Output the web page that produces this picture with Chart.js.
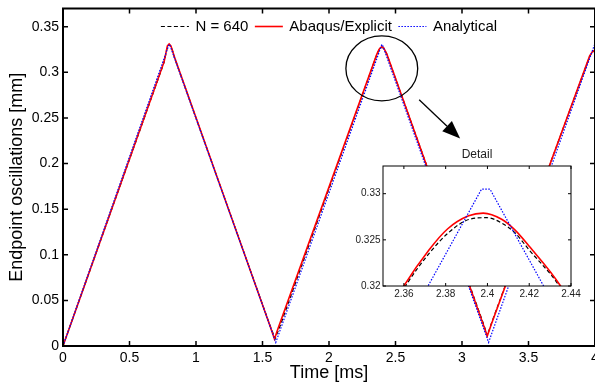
<!DOCTYPE html>
<html>
<head>
<meta charset="utf-8">
<title>Endpoint oscillations</title>
<script src="https://cdn.jsdelivr.net/npm/chart.js@4.4.1/dist/chart.umd.min.js"></script>
<style>
  html, body { margin: 0; padding: 0; background: #fff; overflow: hidden; }
  #wrap { position: relative; width: 595px; height: 387px; }
  #main { position: absolute; left: 0; top: 0; }
  #detail { position: absolute; left: 340px; top: 140px; }
</style>
</head>
<body>
<div id="wrap">
  <canvas id="main" width="595" height="387"></canvas>
  <canvas id="detail" width="245" height="165"></canvas>
</div>
<script>
// Data
const seriesLabels = ['N = 640', 'Abaqus/Explicit', 'Analytical'];

const nTime = [0, 0.76, 0.785, 0.8, 0.815, 0.84, 1.56, 1.595, 1.63, 2.3608, 2.372, 2.381, 2.391, 2.3996, 2.407, 2.413, 2.42, 2.4344, 3.16, 3.19, 3.22, 3.96, 3.98, 4.0];
const nValues = [0, 0.311, 0.3283, 0.3305, 0.3281, 0.3155, 0.021, 0.0082, 0.021, 0.32, 0.3235, 0.3257, 0.3272, 0.3274, 0.3268, 0.3258, 0.3239, 0.32, 0.025, 0.0115, 0.0245, 0.3175, 0.322, 0.3243];

const abaqusTime = [0, 0.76, 0.785, 0.798, 0.812, 0.84, 1.56, 1.59, 1.62, 2.36, 2.372, 2.381, 2.391, 2.398, 2.407, 2.413, 2.42, 2.435, 3.16, 3.19, 3.22, 3.96, 3.98, 4.0];
const abaqusValues = [0, 0.3115, 0.329, 0.3312, 0.3288, 0.316, 0.0205, 0.0077, 0.0205, 0.32, 0.3239, 0.3262, 0.3276, 0.3279, 0.3272, 0.3261, 0.3243, 0.32, 0.0235, 0.011, 0.0235, 0.318, 0.3225, 0.3246];

const analyticalTime = [0, 0.797, 0.802, 1.6, 2.3972, 2.4012, 3.2, 3.997, 4.0];
const analyticalValues = [0, 0.3305, 0.3305, 0.004, 0.3305, 0.3305, 0.004, 0.3305, 0.3305];

const timeTicks = [0, 0.5, 1, 1.5, 2, 2.5, 3, 3.5, 4];
const dispTicks = [0, 0.05, 0.1, 0.15, 0.2, 0.25, 0.3, 0.35];
const detailTimeTicks = [2.36, 2.38, 2.4, 2.42, 2.44];
const detailDispTicks = [0.32, 0.325, 0.33];

// Circle around the peak and arrow to the inset (in axis units)
const zoomCircle = { x: 2.397, y: 0.3043, rx: 0.27, ry: 0.0356 };
const zoomArrow = { from: [2.678, 0.270], to: [2.986, 0.2274] };

Chart.defaults.font.family = '"Liberation Sans", Arial, sans-serif';
Chart.defaults.color = '#000';

const toPoints = (xs, ys) => xs.map((x, i) => ({ x: x, y: ys[i] }));

// smooth = true only for the inset, where the rounded peaks show
function makeDatasets(clip, smooth) {
  const curve = smooth ? 'monotone' : 'default';
  return [
    { label: seriesLabels[0], data: toPoints(nTime, nValues), borderColor: '#000000', borderWidth: 1.2, borderDash: [4, 2.5], order: 2, cubicInterpolationMode: curve },
    { label: seriesLabels[1], data: toPoints(abaqusTime, abaqusValues), borderColor: '#ff0000', borderWidth: 1.6, order: 1, cubicInterpolationMode: curve },
    { label: seriesLabels[2], data: toPoints(analyticalTime, analyticalValues), borderColor: '#0000ff', borderWidth: 1.2, borderDash: [1.5, 1.5], order: 0 }
  ].map(ds => Object.assign(ds, { pointRadius: 0, tension: 0, fill: false, clip: clip }));
}

// Box around the plot with inward ticks on all four sides
const framePlugin = {
  id: 'frame',
  afterDatasetsDraw(chart, args, opts) {
    const { ctx, chartArea: a, scales: { x, y } } = chart;
    ctx.save();
    ctx.strokeStyle = '#000';
    ctx.lineWidth = opts.tickWidth;
    ctx.beginPath();
    x.ticks.forEach(t => {
      const px = x.getPixelForValue(t.value);
      ctx.moveTo(px, a.bottom); ctx.lineTo(px, a.bottom - opts.tickLen);
      ctx.moveTo(px, a.top); ctx.lineTo(px, a.top + opts.tickLen);
    });
    y.ticks.forEach(t => {
      const py = y.getPixelForValue(t.value);
      ctx.moveTo(a.left, py); ctx.lineTo(a.left + opts.tickLen, py);
      ctx.moveTo(a.right, py); ctx.lineTo(a.right - opts.tickLen, py);
    });
    ctx.stroke();
    ctx.lineWidth = opts.lineWidth;
    ctx.strokeRect(a.left, a.top, a.width, a.height);
    ctx.restore();
  }
};

// Legend drawn inside the plot, line samples keep the dataset styles
const lineLegend = {
  id: 'lineLegend',
  afterDraw(chart, args, opts) {
    if (!opts.show) return;
    const { ctx, chartArea: a } = chart;
    ctx.save();
    ctx.font = opts.font;
    const items = chart.data.datasets.map(ds => ({ ds: ds, w: ctx.measureText(ds.label).width }));
    const total = items.reduce((s, it) => s + opts.lineLen + opts.gap + it.w, 0) + opts.gap * (items.length - 1);
    let xPos = (a.left + a.right) / 2 - total / 2;
    const yPos = a.top + opts.offset;
    items.forEach(it => {
      ctx.strokeStyle = it.ds.borderColor;
      ctx.lineWidth = it.ds.borderWidth;
      ctx.setLineDash(it.ds.borderDash || []);
      ctx.beginPath();
      ctx.moveTo(xPos, yPos);
      ctx.lineTo(xPos + opts.lineLen, yPos);
      ctx.stroke();
      ctx.setLineDash([]);
      xPos += opts.lineLen + opts.gap;
      ctx.fillStyle = '#000';
      ctx.textBaseline = 'middle';
      ctx.fillText(it.ds.label, xPos, yPos);
      xPos += it.w + opts.gap;
    });
    ctx.restore();
  }
};

// Ellipse + arrow pointing to the detail view
const calloutPlugin = {
  id: 'callout',
  afterDatasetsDraw(chart) {
    const { ctx, scales: { x, y } } = chart;
    const cx = x.getPixelForValue(zoomCircle.x);
    const cy = y.getPixelForValue(zoomCircle.y);
    const rx = x.getPixelForValue(zoomCircle.x + zoomCircle.rx) - cx;
    const ry = cy - y.getPixelForValue(zoomCircle.y + zoomCircle.ry);
    ctx.save();
    ctx.strokeStyle = '#000';
    ctx.lineWidth = 1.3;
    ctx.beginPath();
    ctx.ellipse(cx, cy, rx, ry, 0, 0, Math.PI * 2);
    ctx.stroke();

    const x1 = x.getPixelForValue(zoomArrow.from[0]), y1 = y.getPixelForValue(zoomArrow.from[1]);
    const x2 = x.getPixelForValue(zoomArrow.to[0]), y2 = y.getPixelForValue(zoomArrow.to[1]);
    const ang = Math.atan2(y2 - y1, x2 - x1);
    const headLen = 18, headW = 7;
    const bx = x2 - headLen * Math.cos(ang), by = y2 - headLen * Math.sin(ang);
    ctx.beginPath();
    ctx.moveTo(x1, y1);
    ctx.lineTo(bx, by);
    ctx.stroke();
    ctx.fillStyle = '#000';
    ctx.beginPath();
    ctx.moveTo(x2, y2);
    ctx.lineTo(bx + headW * Math.sin(ang), by - headW * Math.cos(ang));
    ctx.lineTo(bx - headW * Math.sin(ang), by + headW * Math.cos(ang));
    ctx.closePath();
    ctx.fill();
    ctx.restore();
  }
};

// White plot area and title for the inset
const insetPlugin = {
  id: 'inset',
  beforeDatasetsDraw(chart, args, opts) {
    if (!opts.show) return;
    const { ctx, chartArea: a } = chart;
    ctx.save();
    ctx.fillStyle = '#fff';
    ctx.fillRect(a.left, a.top, a.width, a.height);
    ctx.fillStyle = '#222';
    ctx.font = '12px "Liberation Sans", Arial, sans-serif';
    ctx.textAlign = 'center';
    ctx.textBaseline = 'middle';
    ctx.fillText(opts.title, (a.left + a.right) / 2, a.top - 11);
    ctx.restore();
  }
};

function axis(cfg) {
  return {
    type: 'linear',
    min: cfg.min,
    max: cfg.max,
    afterBuildTicks: s => { s.ticks = cfg.ticks.map(v => ({ value: v })); },
    afterFit: s => {
      if (cfg.height) s.height = cfg.height;
      if (cfg.width) s.width = cfg.width;
      s.paddingLeft = 0; s.paddingRight = 0; s.paddingTop = 0; s.paddingBottom = 0;
    },
    grid: { display: false, drawTicks: false },
    border: { display: false },
    ticks: {
      color: cfg.color, autoSkip: false, maxRotation: 0, padding: cfg.pad,
      font: { size: cfg.size }, callback: v => String(v)
    },
    title: cfg.title ? { display: true, text: cfg.title, color: '#000', font: { size: 18 }, padding: cfg.titlePad } : { display: false }
  };
}

const mainChart = new Chart(document.getElementById('main'), {
  type: 'line',
  data: { datasets: makeDatasets(false, false) },
  options: {
    responsive: false,
    animation: false,
    layout: { padding: { top: 8.5, right: 0, left: 0, bottom: 0 } },
    scales: {
      x: axis({ min: 0, max: 4, ticks: timeTicks, height: 41, pad: 4, size: 14, color: '#000', title: 'Time [ms]', titlePad: { top: 0, bottom: 3 } }),
      y: axis({ min: 0, max: 0.37, ticks: dispTicks, width: 63, pad: 4, size: 14, color: '#000', title: 'Endpoint oscillations [mm]', titlePad: { top: 6, bottom: 0 } })
    },
    plugins: {
      legend: { display: false },
      tooltip: { enabled: false },
      frame: { lineWidth: 2, tickWidth: 1.5, tickLen: 5 },
      lineLegend: { show: true, font: '15px "Liberation Sans", Arial, sans-serif', lineLen: 28, gap: 6.5, offset: 18 },
      inset: { show: false }
    }
  },
  plugins: [framePlugin, lineLegend, calloutPlugin, insetPlugin]
});

const detailChart = new Chart(document.getElementById('detail'), {
  type: 'line',
  data: { datasets: makeDatasets(0, true) },
  options: {
    responsive: false,
    animation: false,
    layout: { padding: { top: 26, right: 14, left: 0, bottom: 0 } },
    scales: {
      x: axis({ min: 2.35, max: 2.44, ticks: detailTimeTicks, height: 19, pad: 2, size: 10, color: '#222' }),
      y: axis({ min: 0.32, max: 0.333, ticks: detailDispTicks, width: 43, pad: 2.5, size: 10, color: '#222' })
    },
    plugins: {
      legend: { display: false },
      tooltip: { enabled: false },
      frame: { lineWidth: 1, tickWidth: 1, tickLen: 3 },
      lineLegend: { show: false },
      inset: { show: true, title: 'Detail' }
    }
  },
  plugins: [framePlugin, lineLegend, insetPlugin]
});
</script>
</body>
</html>
